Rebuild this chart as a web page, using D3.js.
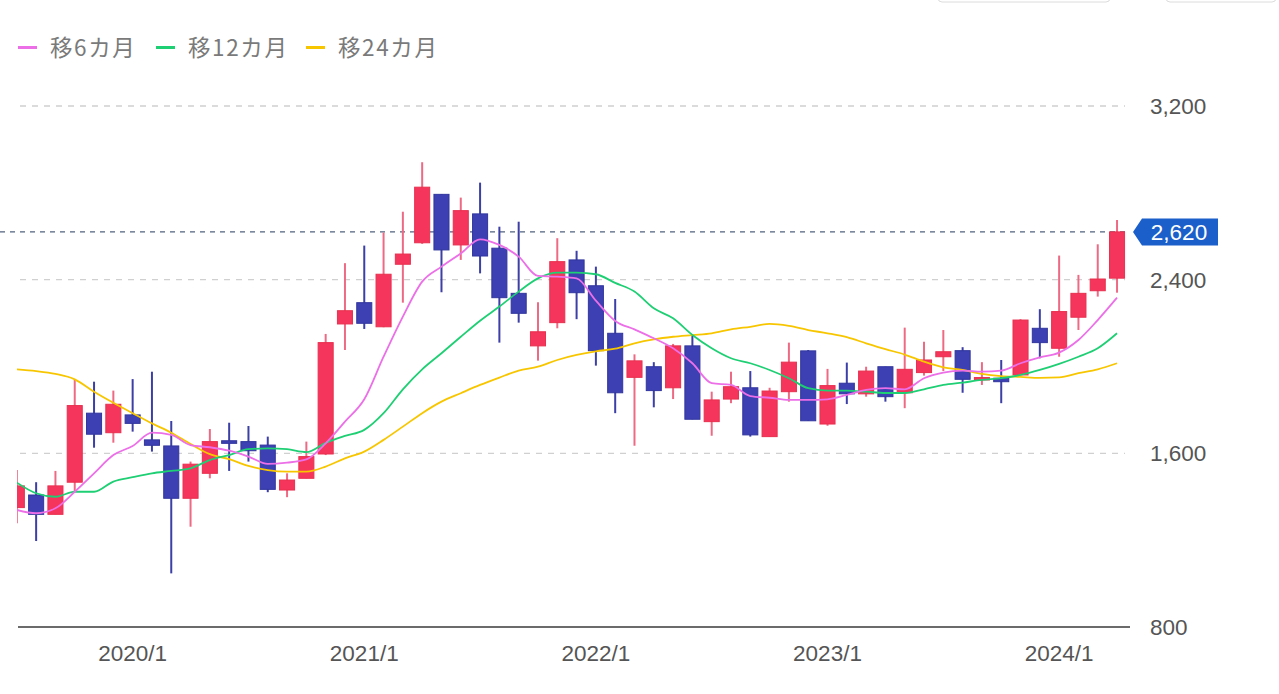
<!DOCTYPE html>
<html>
<head>
<meta charset="utf-8">
<script src="https://cdn.jsdelivr.net/npm/d3@7/dist/d3.min.js"></script>
<style>
html,body{margin:0;padding:0;background:#fff;}
svg{display:block;}
</style>
</head>
<body>
<svg id="chart" width="1279" height="694"></svg>
<script>
const months = ["2019/7","2019/8","2019/9","2019/10","2019/11","2019/12",
"2020/1","2020/2","2020/3","2020/4","2020/5","2020/6","2020/7","2020/8","2020/9","2020/10","2020/11","2020/12",
"2021/1","2021/2","2021/3","2021/4","2021/5","2021/6","2021/7","2021/8","2021/9","2021/10","2021/11","2021/12",
"2022/1","2022/2","2022/3","2022/4","2022/5","2022/6","2022/7","2022/8","2022/9","2022/10","2022/11","2022/12",
"2023/1","2023/2","2023/3","2023/4","2023/5","2023/6","2023/7","2023/8","2023/9","2023/10","2023/11","2023/12",
"2024/1","2024/2","2024/3","2024/4"];
const openV  = [1350,1408,1319,1467,1785,1695,1777,1662,1634,1393,1508,1658,1654,1638,1431,1485,1597,2196,2294,2183,2471,2570,2793,2560,2703,2545,2337,2095,2202,2491,2372,2153,1950,1999,1902,2095,1746,1850,1902,1677,1884,2072,1735,1923,1874,1999,1879,1972,2045,2073,1938,1946,1961,2176,2084,2227,2349,2407];
const highV  = [1523,1467,1519,1938,1930,1889,1942,1976,1749,1562,1712,1741,1726,1677,1508,1654,2150,2476,2557,2617,2713,2941,2793,2778,2847,2644,2667,2296,2591,2533,2460,2311,2056,2020,2104,2145,1884,1976,1979,1902,2110,2076,1989,2018,1999,1999,2179,2114,2168,2089,2020,2030,2218,2264,2511,2422,2563,2675];
const lowV   = [1278,1196,1319,1423,1626,1649,1700,1608,1047,1262,1485,1519,1562,1421,1398,1485,1592,2076,2173,2181,2294,2565,2342,2491,2429,2110,2202,2027,2176,2218,2004,1785,1635,1812,1850,1757,1681,1831,1677,1677,1838,1750,1727,1827,1861,1838,1808,1958,1979,1879,1915,1831,1961,2038,2045,2168,2322,2340];
const closeV = [1450,1319,1450,1820,1688,1826,1738,1637,1393,1550,1654,1646,1612,1434,1477,1585,2110,2257,2199,2425,2518,2826,2537,2718,2509,2317,2245,2160,2483,2340,2073,1879,2026,1889,2095,1757,1846,1907,1685,1887,2020,1750,1912,1874,1979,1861,1987,2030,2068,1941,1949,1930,2214,2110,2253,2337,2403,2620];
const ma6  = [1339,1324,1347,1423,1508,1592,1634,1695,1685,1638,1628,1612,1585,1551,1557,1572,1646,1746,1849,2045,2230,2391,2460,2521,2586,2560,2506,2417,2414,2406,2303,2210,2171,2130,2084,2015,1923,1915,1864,1856,1846,1846,1849,1869,1892,1900,1895,1946,1972,1981,1976,1981,2015,2042,2064,2122,2214,2317];
const ma12 = [1465,1416,1400,1423,1423,1470,1490,1508,1519,1531,1569,1592,1619,1623,1619,1606,1648,1680,1708,1785,1895,1987,2061,2137,2211,2276,2345,2406,2432,2432,2425,2385,2345,2268,2222,2145,2084,2038,2015,1984,1946,1900,1889,1889,1884,1878,1878,1895,1915,1926,1938,1946,1961,1984,2012,2045,2084,2153];
const ma24 = [1987,1979,1966,1941,1884,1833,1785,1738,1695,1643,1596,1573,1542,1523,1516,1516,1539,1577,1608,1662,1723,1785,1838,1877,1915,1949,1981,1999,2030,2053,2070,2082,2107,2125,2137,2145,2153,2171,2183,2196,2187,2168,2153,2135,2107,2080,2055,2022,1996,1984,1966,1956,1952,1948,1950,1969,1987,2015];
const yTicks = [800,1600,2400,3200];
const xTickLabels = ["2020/1","2021/1","2022/1","2023/1","2024/1"];
const lastPrice = 2620;
const legendNames = ["移6カ月","移12カ月","移24カ月"];
const maColors = ["#ec6fe8","#1fcf74","#f7c600"];

const svg = d3.select("#chart");
const plotL = 17, plotR = 1130, plotT = 0, plotB = 627;
const numFont = "'Liberation Sans',Arial,sans-serif";

const x = d3.scaleBand().domain(months).range([5.06, 5.06 + 19.375*months.length]).padding(0.22);
const xc = m => x(m) + x.bandwidth()/2;
const y = d3.scaleLinear().domain([800,3200]).range([627,106]);

// top remnants (buttons)
svg.append("rect").attr("x",938).attr("y",-30).attr("width",172).attr("height",32).attr("rx",4)
  .attr("fill","none").attr("stroke","#dcdcdc");
svg.append("rect").attr("x",1166).attr("y",-30).attr("width",110).attr("height",32).attr("rx",4)
  .attr("fill","none").attr("stroke","#dcdcdc");

// gridlines
svg.append("g").selectAll("line").data(yTicks.filter(d=>d>800)).join("line")
  .attr("x1",20).attr("x2",1125).attr("y1",d=>y(d)).attr("y2",d=>y(d))
  .attr("stroke","#d0d0d0").attr("stroke-width",1.3).attr("stroke-dasharray","6,6");

// last price line
svg.append("line").attr("x1",0).attr("x2",1130).attr("y1",y(lastPrice)).attr("y2",y(lastPrice))
  .attr("stroke","#50627e").attr("stroke-width",1.3).attr("stroke-dasharray","5,5");

// clip
svg.append("clipPath").attr("id","clip").append("rect")
  .attr("x",plotL).attr("y",plotT).attr("width",plotR-plotL).attr("height",plotB-plotT);
const g = svg.append("g").attr("clip-path","url(#clip)");

const idx = d3.range(months.length);
const up = i => closeV[i] >= openV[i];
// wicks
g.append("g").selectAll("line").data(idx).join("line")
  .attr("x1",i=>xc(months[i])).attr("x2",i=>xc(months[i]))
  .attr("y1",i=>y(highV[i])).attr("y2",i=>y(lowV[i]))
  .attr("stroke",i=>up(i)?"#ee6a84":"#3b3fa6").attr("stroke-width",2);
// bodies
g.append("g").selectAll("rect").data(idx).join("rect")
  .attr("x",i=>x(months[i])).attr("width",x.bandwidth())
  .attr("y",i=>y(Math.max(openV[i],closeV[i])))
  .attr("height",i=>Math.max(2,Math.abs(y(openV[i])-y(closeV[i]))))
  .attr("fill",i=>up(i)?"#f5355b":"#3c40b2")
  .attr("stroke",i=>up(i)?"#e8304f":"#32369e").attr("stroke-width",1);

// MA lines
const line = d3.line().x((d,i)=>xc(months[i])).y(d=>y(d)).curve(d3.curveMonotoneX);
[[ma24,maColors[2]],[ma12,maColors[1]],[ma6,maColors[0]]].forEach(([arr,col])=>{
  g.append("path").datum(arr).attr("d",line).attr("fill","none")
    .attr("stroke",col).attr("stroke-width",1.8);
});

// x axis line
svg.append("line").attr("x1",18).attr("x2",1130).attr("y1",627).attr("y2",627)
  .attr("stroke","#6b6b6b").attr("stroke-width",2);

// x labels
svg.append("g").selectAll("text").data(xTickLabels).join("text")
  .attr("x",d=>xc(d)).attr("y",661).attr("text-anchor","middle")
  .attr("font-family",numFont).attr("font-size",22.5)
  .attr("fill","#555").text(d=>d);

// y labels
svg.append("g").selectAll("text").data(yTicks).join("text")
  .attr("x",1150).attr("y",d=>y(d)+8)
  .attr("font-family",numFont).attr("font-size",22.5)
  .attr("fill","#555").text(d=>d3.format(",")(d));

// last price tag
const ty = y(lastPrice);
svg.append("path")
  .attr("d",`M1133,${ty} L1142,${ty-13.5} L1218,${ty-13.5} L1218,${ty+13.5} L1142,${ty+13.5} Z`)
  .attr("fill","#1b5fcb");
svg.append("text").attr("x",1179).attr("y",ty+8).attr("text-anchor","middle")
  .attr("font-family",numFont).attr("font-size",22.5)
  .attr("fill","#fff").text(d3.format(",")(lastPrice));

// legend
const legX = [18,156,306];
const lg = svg.append("g");
legendNames.forEach((n,i)=>{
  lg.append("line").attr("x1",legX[i]).attr("x2",legX[i]+19).attr("y1",47.5).attr("y2",47.5)
    .attr("stroke",maColors[i]).attr("stroke-width",3);
  lg.append("text").attr("x",legX[i]+32).attr("y",56)
    .attr("font-family","'Noto Sans CJK JP','Noto Sans',sans-serif").attr("font-size",22.5)
    .attr("letter-spacing",1.6).attr("fill","#7a7a7a").text(n);
});
</script>
</body>
</html>
